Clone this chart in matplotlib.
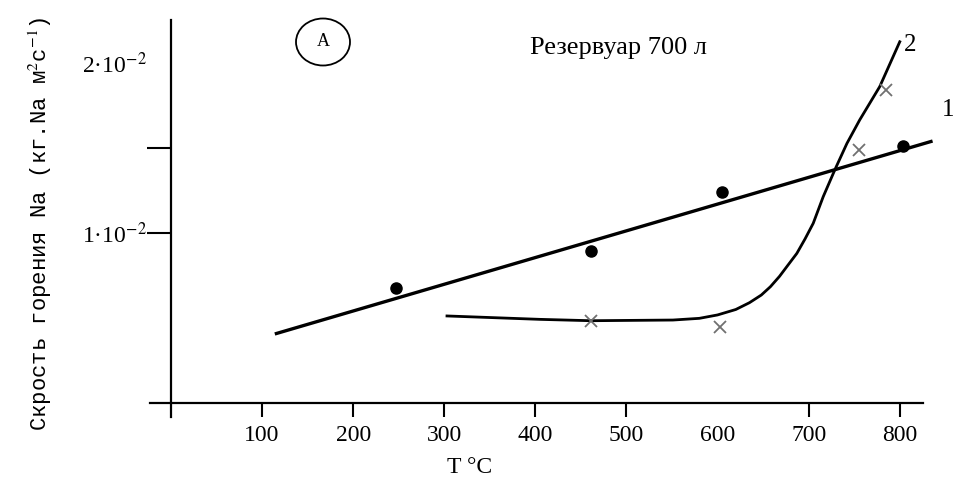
import matplotlib
matplotlib.use("Agg")
import matplotlib.pyplot as plt
from matplotlib.patches import Ellipse

# Data (temperature °C, burning rate kg Na m^-2 s^-1)
dots_x = [247, 461, 605, 803]
dots_y = [0.00676, 0.00894, 0.01241, 0.01512]
cross_x = [461, 603, 755, 785]
cross_y = [0.00482, 0.00447, 0.01488, 0.01841]
line1_x = [114, 836]
line1_y = [0.00406, 0.01541]
curve2_x = [303, 405, 461, 551, 580, 600, 620, 635, 648, 658, 668, 676, 687, 696, 705, 716,
            729, 742, 756, 778, 800]
curve2_y = [0.00512, 0.00492, 0.00484, 0.00488, 0.00498, 0.00518, 0.00550, 0.0059, 0.00635,
            0.00684, 0.00745, 0.00802, 0.0088, 0.00965, 0.01057, 0.01214, 0.01375, 0.01527,
            0.01665, 0.01861, 0.02125]
xticks = [100, 200, 300, 400, 500, 600, 700, 800]
xtick_labels = ["100", "200", "300", "400", "500", "600", "700", "800"]
yticks = [0.01, 0.015, 0.02]
ytick_labels = [r"1·10$^{-2}$", "", r"2·10$^{-2}$"]

plt.rcParams['mathtext.fontset'] = 'stix'
serif = ['Liberation Serif', 'DejaVu Serif']

fig = plt.figure(figsize=(9.61, 4.94), dpi=100)
ax = fig.add_axes([150/961, 1-417/494, 773/961, 397/494])
ax.set_xlim(-23, 825.5)
ax.set_ylim(-0.000824, 0.02253)

for s in ['top', 'right']:
    ax.spines[s].set_visible(False)
ax.spines['left'].set_position(('data', 0))
ax.spines['bottom'].set_position(('data', 0))
for s in ['left', 'bottom']:
    ax.spines[s].set_linewidth(1.6)

ax.set_xticks(xticks)
ax.set_xticklabels(xtick_labels, fontfamily=serif, fontsize=17)
ax.set_yticks(yticks)
ax.set_yticklabels(ytick_labels, fontfamily=serif, fontsize=17)
ax.tick_params(axis='x', direction='out', length=10, width=1.5, pad=6)
ax.tick_params(axis='y', direction='out', length=17, width=1.5, pad=0)
# no tick mark at 600 and at 2e-2 in the reference
ax.xaxis.get_major_ticks()[5].tick1line.set_visible(False)
ax.yaxis.get_major_ticks()[2].tick1line.set_visible(False)

ax.plot(line1_x, line1_y, color='black', lw=2.4, clip_on=False, solid_capstyle='butt')
ax.plot(curve2_x, curve2_y, color='black', lw=2.0, clip_on=False)
ax.plot(dots_x, dots_y, 'o', color='black', markersize=8, clip_on=False)
ax.plot(cross_x, cross_y, 'x', color='#707070', markersize=9, mew=1.3, clip_on=False)

ax.text(853, 0.01724, "1", fontfamily=serif, fontsize=18, ha='center', va='center')
ax.text(811, 0.02106, "2", fontfamily=serif, fontsize=18, ha='center', va='center')

fig.text(530/961, 1-48/494, "Резервуар 700 л", fontfamily=serif, fontsize=19,
         ha='left', va='center')
ell = Ellipse((323/961, 1-42/494), 54/961, 47/494, transform=fig.transFigure,
              fill=False, edgecolor='black', lw=1.3)
fig.add_artist(ell)
fig.text(323/961, 1-42/494, "A", fontfamily=serif, fontsize=13, ha='center', va='center')

fig.text(470/961, 1-467/494, "T °C", fontfamily=serif, fontsize=17, ha='center', va='center')
fig.text(40/961, 1-224/494, "Скрость горения Na (кг.Na м$^{2}$c$^{-1}$)",
         fontfamily=['Liberation Mono', 'DejaVu Sans Mono'], fontsize=16,
         rotation=90, ha='center', va='center')

fig.savefig("out.png", dpi=100)
